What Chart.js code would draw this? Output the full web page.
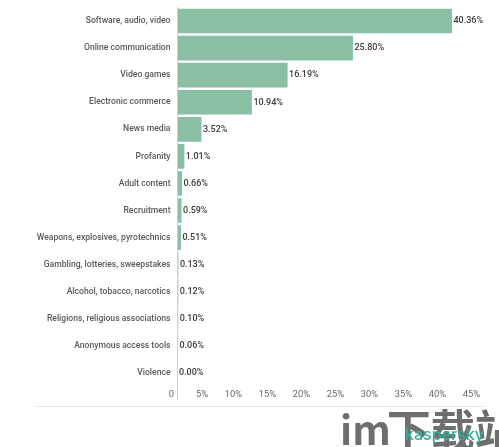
<!DOCTYPE html>
<html><head><meta charset="utf-8">
<script src="https://cdn.jsdelivr.net/npm/chart.js@4"></script>
<style>
html,body{margin:0;padding:0;background:#fff}
#wrap{position:relative;width:499px;height:447px;overflow:hidden}
canvas{position:absolute;left:0;top:0}
.rule{position:absolute;left:37px;top:406px;width:446px;height:1px;background:#e4e4e4}
.wm{position:absolute;left:340px;top:400px;font:700 44px/56px "Noto Sans CJK SC",sans-serif;color:#6e6e6e;white-space:nowrap}
.wm span{font-size:40px;margin-right:-4px;position:relative;top:-2px}
.ks{position:absolute;left:405px;top:425px;font:500 16px/18px "Inter","Noto Sans",sans-serif;color:#2fb09a;white-space:nowrap}
</style></head>
<body><div id="wrap"><canvas id="c" width="499" height="447"></canvas>
<div class="rule"></div><div class="wm"><span>im</span>下载站</div><div class="ks">kaspersky</div></div>
<script>
const categories=["Software, audio, video","Online communication","Video games","Electronic commerce","News media","Profanity","Adult content","Recruitment","Weapons, explosives, pyrotechnics","Gambling, lotteries, sweepstakes","Alcohol, tobacco, narcotics","Religions, religious associations","Anonymous access tools","Violence"];
const shares=[40.36,25.80,16.19,10.94,3.52,1.01,0.66,0.59,0.51,0.13,0.12,0.10,0.06,0.00];
const font={family:"Roboto",size:8.6,weight:'500'};
const valueLabels={id:'valueLabels',afterDatasetsDraw(ch){
  const c=ch.ctx;c.save();c.font='500 9px Roboto';c.fillStyle='#3c3c3c';c.textAlign='left';c.textBaseline='middle';
  ch.getDatasetMeta(0).data.forEach((b,i)=>c.fillText(shares[i].toFixed(2)+'%',b.x+1.5,b.y));
  c.restore();}};
new Chart(document.getElementById('c'),{type:'bar',
 data:{labels:categories,datasets:[{data:shares,backgroundColor:'#8abfa3',categoryPercentage:0.91,barPercentage:1}]},
 options:{indexAxis:'y',responsive:false,animation:false,devicePixelRatio:1,
  layout:{padding:{left:0,top:7.5,right:15.5,bottom:0}},
  plugins:{legend:{display:false},tooltip:{enabled:false}},
  scales:{
   y:{afterFit(s){s.width=177.5;s.paddingTop=0;s.paddingBottom=0},grid:{display:false,drawTicks:false},border:{display:true,color:'#cfcfcf',width:1},
      ticks:{font,color:'#5a5a5a',padding:7,autoSkip:false}},
   x:{min:0,max:45,afterFit(s){s.height=60.5;s.paddingLeft=0;s.paddingRight=0},border:{display:false},
      grid:{drawOnChartArea:false,drawTicks:true,tickLength:14,color:c=>c.tick&&c.tick.value===0?'#cfcfcf':'transparent'},
      ticks:{stepSize:5,font:{family:"Roboto",size:9.3},color:'#666',align:'end',labelOffset:-3.5,padding:-11,maxRotation:0,autoSkip:false,
        callback:v=>v===0?'0':v+'%'}}
  }},plugins:[valueLabels]});
</script></body></html>
